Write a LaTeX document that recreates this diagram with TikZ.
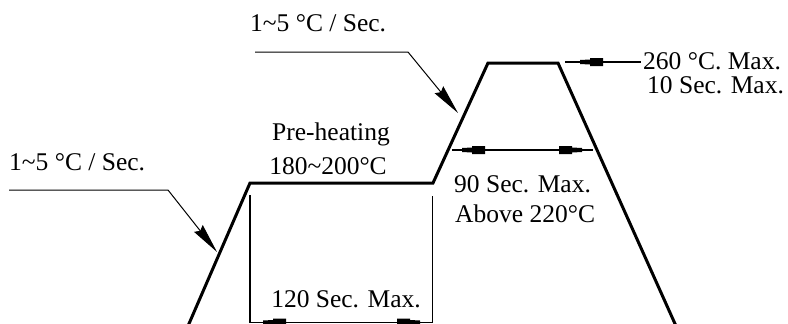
\documentclass[tikz,border=0pt]{standalone}
\usepackage{fontspec}
\setmainfont{Liberation Serif}
\usetikzlibrary{arrows.meta}
\tikzset{
  every node/.style={inner sep=0pt, font=\fontsize{25.5}{28}\selectfont},
  profile/.style={line width=3pt, line join=miter},
  thinl/.style={line width=1.3pt},
  leader/.style={line width=1pt, -{Stealth[length=30pt,width=11pt,inset=3pt]}},
  dmk/.pic={\fill (0,-2)--(10,-2.5)--(10,-4)--(23,-4)--(23,4)--(10,4)--(10,2.5)--(0,2)--cycle;}
}
\begin{document}
\begin{tikzpicture}[x=1pt,y=-1pt]
\useasboundingbox (0,0) rectangle (788,324);
\clip (0,0) rectangle (788,324);
% profile
\coordinate (p0) at (188,326);
\coordinate (p1) at (250,183);
\coordinate (p2) at (433,183);
\coordinate (p3) at (488,63);
\coordinate (p4) at (558,63);
\coordinate (p5) at (676,326);
\draw[profile] (p0) -- (p1) -- (p2) -- (p3) -- (p4) -- (p5);
% left slope label
\node[anchor=west] (lslope) at (9,162) {1\textasciitilde5 °C / Sec.};
\coordinate (la) at (9,190);
\coordinate (lb) at (168,190);
\coordinate (lt) at (217,252);
\draw[leader] (la) -- (lb) -- (lt);
% top slope label
\node[anchor=west] (tslope) at (250,23) {1\textasciitilde5 °C / Sec.};
\coordinate (ta) at (255,52);
\coordinate (tb) at (408,52);
\coordinate (tt) at (458,113);
\draw[leader] (ta) -- (tb) -- (tt);
% preheating
\node (pre) at (331,134) {Pre-heating};
\node (pret) at (328,166) {180\textasciitilde200°C};
% 120 sec box
\coordinate (b1) at (250,195);
\coordinate (b2) at (250,322.5);
\coordinate (b3) at (432.5,322.5);
\coordinate (b4) at (432.5,196);
\draw[thinl] (b1) -- (b2) -- (b3) -- (b4);
\pic at (263,322.5) {dmk};
\pic[xscale=-1] at (420,322.5) {dmk};
\node (s120) at (346,299) {120 Sec. Max.};
% 90 sec
\coordinate (n1) at (452,150);
\coordinate (n2) at (593,150);
\draw[thinl] (n1) -- (n2);
\pic at (462,150) {dmk};
\pic[xscale=-1] at (582,150) {dmk};
\node[anchor=west] (s90) at (454,184) {90 Sec. Max.};
\node[anchor=west] (a220) at (455,214) {Above 220°C};
% 260
\coordinate (m1) at (565,62);
\coordinate (m2) at (641,62);
\draw[thinl] (m1) -- (m2);
\pic at (580,62) {dmk};
\node[anchor=west] (t260) at (643,61) {260 °C. Max.};
\node[anchor=west] (t10) at (647,85) {10 Sec. Max.};
\end{tikzpicture}
\end{document}
